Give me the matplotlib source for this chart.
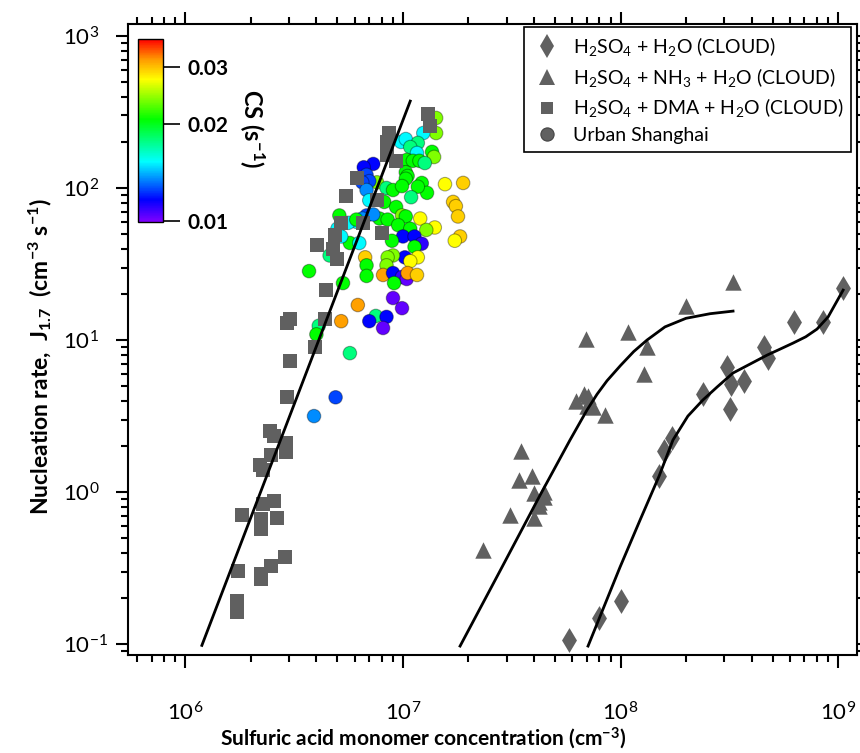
import numpy as np
import matplotlib
matplotlib.use('Agg')
import matplotlib.pyplot as plt
from matplotlib.colors import LogNorm, LinearSegmentedColormap
from matplotlib.ticker import LogLocator, NullFormatter
from matplotlib.lines import Line2D

plt.rcParams['font.family'] = ['Lato', 'DejaVu Sans']
plt.rcParams['mathtext.default'] = 'regular'

# CLOUD H2SO4 + H2O (diamonds)
h2o_conc = [1.055e9, 8.53e8, 6.28e8, 4.57e8, 4.77e8, 3.09e8, 3.22e8, 3.70e8,
            2.39e8, 3.19e8, 1.726e8, 1.585e8, 1.503e8, 1.005e8, 7.96e7, 5.80e7]
h2o_J = [22.0, 13.1, 13.1, 9.0, 7.6, 6.6, 5.1, 5.4,
         4.4, 3.5, 2.26, 1.86, 1.27, 0.192, 0.148, 0.106]

# CLOUD H2SO4 + NH3 + H2O (triangles)
nh3_conc = [3.29e8, 2.00e8, 1.083e8, 6.94e7, 1.324e8, 1.282e8, 6.80e7, 7.09e7,
            6.24e7, 7.01e7, 7.47e7, 8.49e7, 3.49e7, 3.92e7, 3.41e7, 4.00e7,
            4.45e7, 4.45e7, 4.22e7, 4.22e7, 3.10e7, 4.00e7, 2.33e7]
nh3_J = [24.1, 16.7, 11.3, 10.2, 9.0, 6.0, 4.4, 4.3,
         4.0, 3.7, 3.6, 3.2, 1.86, 1.27, 1.20, 0.985,
         1.0, 0.927, 0.859, 0.809, 0.706, 0.675, 0.415]

# CLOUD H2SO4 + DMA + H2O (squares)
dma_conc = [1.30e7, 1.33e7, 8.6e6, 8.4e6, 8.4e6, 9.3e6, 6.15e6, 5.5e6, 7.6e6,
            5.2e6, 6.55e6, 8.0e6, 4.87e6, 4.02e6, 4.77e6, 5.0e6, 4.43e6,
            3.02e6, 2.93e6, 4.38e6, 3.94e6, 3.02e6, 2.93e6, 2.45e6, 2.55e6,
            2.90e6, 2.90e6, 2.47e6, 2.20e6, 2.27e6, 2.27e6, 2.55e6, 1.82e6,
            2.22e6, 2.63e6, 2.22e6, 2.87e6, 2.47e6, 2.22e6, 2.22e6, 1.74e6,
            1.72e6, 1.72e6]
dma_J = [307, 256, 230, 201, 165, 151, 116, 88.5, 83.4,
         58.9, 58.9, 50.6, 49.1, 42.2, 39.7, 34.1, 21.3,
         13.7, 12.9, 13.7, 9.0, 7.27, 4.22, 2.52, 2.33,
         2.10, 1.83, 1.75, 1.51, 1.40, 0.834, 0.873, 0.706,
         0.664, 0.675, 0.571, 0.373, 0.326, 0.289, 0.268, 0.302,
         0.192, 0.163]

# Urban Shanghai (circles), colour = condensation sink
sh_conc = [1.42e7, 1.42e7, 1.24e7, 9.8e6, 1.03e7, 1.17e7, 1.08e7, 1.16e7, 1.36e7, 1.39e7,
           1.04e7, 1.11e7, 1.19e7, 1.26e7, 7.3e6, 6.6e6, 6.8e6, 1.03e7, 1.05e7, 1.03e7,
           7.6e6, 7.0e6, 6.5e6, 6.8e6, 8.4e6, 9.0e6, 9.9e6, 1.22e7, 1.29e7, 1.17e7,
           1.56e7, 1.89e7, 1.09e7, 7.0e6, 8.2e6, 1.70e7, 1.75e7, 1.79e7, 9.3e6, 9.9e6,
           1.03e7, 7.8e6, 8.5e6, 6.8e6, 7.3e6, 6.5e6, 6.1e6, 5.1e6, 5.0e6, 5.6e6,
           6.1e6, 9.5e6, 1.20e7, 1.40e7, 1.28e7, 1.08e7, 1.00e7, 1.13e7, 1.22e7, 1.13e7,
           1.83e7, 1.73e7, 8.9e6, 5.7e6, 6.3e6, 5.2e6, 4.6e6, 1.02e7, 1.17e7, 1.08e7,
           9.0e6, 8.5e6, 8.4e6, 6.7e6, 6.8e6, 6.8e6, 8.1e6, 9.0e6, 9.9e6, 1.04e7,
           1.05e7, 1.16e7, 9.1e6, 5.3e6, 3.7e6, 4.1e6, 4.0e6, 5.2e6, 6.2e6, 5.7e6,
           4.9e6, 3.9e6, 9.0e6, 9.9e6, 7.5e6, 7.0e6, 8.4e6, 8.1e6]
sh_J = [289, 230, 230, 201, 210, 198, 186, 170, 173, 160,
        153, 151, 151, 146, 144, 137, 122, 127, 120, 115,
        109, 111, 109, 97, 100, 97, 103, 108, 93, 102,
        106, 108, 87, 83, 81, 81, 76, 65, 75, 66,
        65, 63, 62, 66, 67, 63, 60, 66, 54, 59,
        62, 57, 63, 55, 53, 54, 48, 48, 43, 41,
        48, 45, 45, 43.5, 43.5, 48, 36, 35, 35, 33,
        36, 35, 31, 35, 31, 26.4, 26.8, 27.6, 26.0, 25.2,
        27.6, 26.8, 23.7, 23.7, 28.4, 12.4, 10.9, 13.3, 17.0, 8.2,
        4.2, 3.16, 18.9, 16.2, 14.4, 13.3, 14.2, 12.0]
sh_cs = [0.0238, 0.0238, 0.0152, 0.0152, 0.0152, 0.0178, 0.0178, 0.0152, 0.0206, 0.0238,
         0.0206, 0.0206, 0.0206, 0.0178, 0.0116, 0.0116, 0.0125, 0.0206, 0.0206, 0.0206,
         0.0238, 0.0125, 0.0125, 0.0135, 0.0178, 0.0206, 0.0206, 0.0206, 0.0206, 0.0206,
         0.0274, 0.0293, 0.0178, 0.0152, 0.0206, 0.0293, 0.0293, 0.0293, 0.0206, 0.0238,
         0.0206, 0.0206, 0.0206, 0.0125, 0.0135, 0.0135, 0.0152, 0.0206, 0.0152, 0.0152,
         0.0206, 0.0206, 0.0274, 0.0274, 0.0238, 0.0206, 0.0116, 0.0116, 0.0110, 0.0206,
         0.0293, 0.0274, 0.0206, 0.0206, 0.0152, 0.0152, 0.0178, 0.0116, 0.0274, 0.0274,
         0.0238, 0.0238, 0.0238, 0.0293, 0.0206, 0.0206, 0.0313, 0.0116, 0.0108, 0.0103,
         0.0313, 0.0293, 0.0206, 0.0206, 0.0206, 0.0178, 0.0206, 0.0313, 0.0313, 0.0178,
         0.0125, 0.0135, 0.0103, 0.0103, 0.0178, 0.0116, 0.0116, 0.0103]

# fitted curves
dma_fit_conc = [1.19e6, 1.08e7]
dma_fit_J = [0.098, 373]
nh3_fit_conc = [1.83e7, 2.79e7, 4.27e7, 5.86e7, 7.01e7, 7.8e7, 8.67e7, 1.0e8, 1.15e8,
                1.324e8, 1.60e8, 2.00e8, 2.58e8, 3.29e8]
nh3_fit_J = [0.097, 0.302, 0.955, 2.20, 3.46, 4.4, 5.4, 6.8, 8.4,
             10.0, 12.2, 13.9, 14.9, 15.5]
h2o_fit_conc = [7.09e7, 9.95e7, 1.23e8, 1.503e8, 1.742e8, 2.04e8, 2.39e8, 2.78e8,
                3.29e8, 3.94e8, 4.72e8, 5.4e8, 6.21e8, 7.1e8, 8.0e8, 9.0e8, 1.055e9]
h2o_fit_J = [0.097, 0.321, 0.655, 1.27, 2.20, 3.16, 4.03, 4.91,
             6.07, 6.95, 7.96, 8.7, 9.55, 10.5, 11.8, 14.2, 21.3]

gray = '#606060'
cmap = LinearSegmentedColormap.from_list(
    'rainbow_igor', [(0.0, '#7f00ff'), (0.12, '#0000ff'), (0.33, '#00ffff'),
                     (0.56, '#00ff00'), (0.78, '#ffff00'), (0.89, '#ff9900'),
                     (1.0, '#ff0000')])
norm = LogNorm(vmin=0.0099, vmax=0.0366)

fig = plt.figure(figsize=(8.6, 7.53), dpi=100)
ax = fig.add_axes([128 / 860, 1 - 655 / 753, 729 / 860, 631 / 753])

sc = ax.scatter(sh_conc, sh_J, c=sh_cs, cmap=cmap, norm=norm, s=95,
                edgecolors=(0, 0, 0, 0.35), linewidths=0.8, zorder=2)
ax.scatter(dma_conc, dma_J, marker='s', s=90, color=gray, linewidths=0, zorder=3)
ax.scatter(nh3_conc, nh3_J, marker='^', s=140, color=gray, linewidths=0, zorder=3)
ax.scatter(h2o_conc, h2o_J, marker='d', s=160, color=gray, linewidths=0, zorder=3)

ax.plot(dma_fit_conc, dma_fit_J, color='black', lw=2, zorder=4)
ax.plot(nh3_fit_conc, nh3_fit_J, color='black', lw=2, zorder=4)
ax.plot(h2o_fit_conc, h2o_fit_J, color='black', lw=2, zorder=4)

ax.set_xscale('log')
ax.set_yscale('log')
ax.set_xlim(10 ** 5.736, 10 ** 9.087)
ax.set_ylim(10 ** -1.072, 10 ** 3.079)
for a in (ax.xaxis, ax.yaxis):
    a.set_major_locator(LogLocator(base=10, numticks=10))
    a.set_minor_locator(LogLocator(base=10, subs=np.arange(2, 10), numticks=50))
    a.set_minor_formatter(NullFormatter())
for sp in ax.spines.values():
    sp.set_linewidth(1.5)
ax.tick_params(which='both', direction='out', top=True, right=True, width=1.5)
ax.tick_params(which='major', length=9, labelsize=16)
ax.tick_params(which='minor', length=5)
ax.tick_params(axis='x', pad=24)
ax.tick_params(axis='y', pad=38)
for t in ax.yaxis.get_major_ticks():
    t.label1.set_horizontalalignment('left')

fig.text(423 / 860, 1 - 738 / 753, 'Sulfuric acid monomer concentration (cm$^{-3}$)',
         ha='center', va='center', fontsize=15, fontweight='bold')
fig.text(40 / 860, 1 - 357 / 753, 'Nucleation rate,  J$_{1.7}$  (cm$^{-3}$ s$^{-1}$)',
         ha='center', va='center', rotation=90, fontsize=16.5, fontweight='bold')

# colour bar
cax = fig.add_axes([138 / 860, 1 - 222 / 753, 25 / 860, 183 / 753])
cb = fig.colorbar(sc, cax=cax, ticks=[0.01, 0.02, 0.03])
cb.ax.minorticks_off()
cb.ax.set_yticklabels(['0.01', '0.02', '0.03'], fontweight='bold', fontsize=15)
cb.ax.tick_params(length=12, width=1.2, pad=6)
cb.outline.set_linewidth(1)
fig.text(252 / 860, 1 - 128 / 753, 'CS (s$^{-1}$)', rotation=270, ha='center',
         va='center', fontsize=17, fontweight='bold')

# legend
handles = [
    Line2D([], [], ls='none', marker='d', ms=12, color=gray, mew=0),
    Line2D([], [], ls='none', marker='^', ms=11, color=gray, mew=0),
    Line2D([], [], ls='none', marker='s', ms=9, color=gray, mew=0),
    Line2D([], [], ls='none', marker='o', ms=9.5, color=gray, mec='#444444', mew=0.8),
]
labels = ['H$_2$SO$_4$ + H$_2$O (CLOUD)',
          'H$_2$SO$_4$ + NH$_3$ + H$_2$O (CLOUD)',
          'H$_2$SO$_4$ + DMA + H$_2$O (CLOUD)',
          'Urban Shanghai']
leg = ax.legend(handles, labels, loc='upper right', bbox_to_anchor=(851 / 860, 1 - 27 / 753),
                bbox_transform=fig.transFigure, borderaxespad=0, fontsize=14,
                frameon=True, fancybox=False, framealpha=1, edgecolor='black',
                labelspacing=0.4, handletextpad=0.6, borderpad=0.4, handlelength=1.5)
leg.get_frame().set_linewidth(1.2)

fig.savefig('out.png', dpi=100)
